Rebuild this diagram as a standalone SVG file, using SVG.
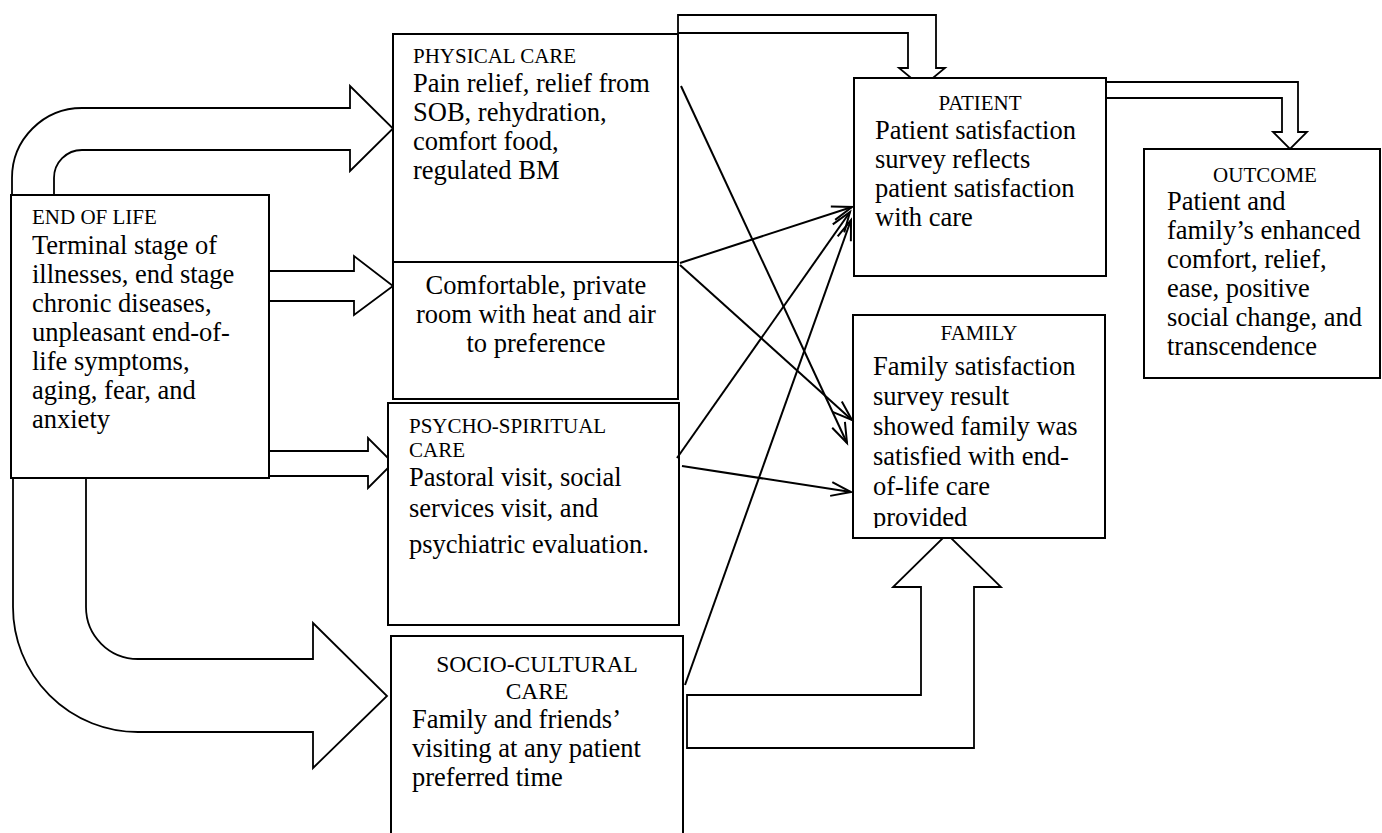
<svg xmlns="http://www.w3.org/2000/svg" width="1382" height="833" viewBox="0 0 1382 833">
<style>
.bx{fill:#fff;stroke:#000;stroke-width:2}
.ba{fill:#fff;stroke:#000;stroke-width:1.8;stroke-linejoin:miter}
.ln{fill:none;stroke:#000;stroke-width:2;marker-end:url(#ah)}
.t{font-family:"Liberation Serif","Times New Roman",serif;font-size:21px;fill:#000}
.b{font-family:"Liberation Serif","Times New Roman",serif;font-size:26.5px;fill:#000}
.s{font-family:"Liberation Serif","Times New Roman",serif;font-size:23.5px;fill:#000}
.c{text-anchor:middle}
</style>
<defs>
<marker id="ah" markerUnits="userSpaceOnUse" markerWidth="30" markerHeight="30" viewBox="-25 -12 30 24" refX="0" refY="0" orient="auto">
<path d="M-20,-7 L0,0 L-20,7" fill="none" stroke="#000" stroke-width="2"/>
</marker>
<clipPath id="famclip"><rect x="853" y="315" width="252" height="213"/></clipPath>
</defs>
<rect width="1382" height="833" fill="#fff"/>

<g id="block-arrows">
<path class="ba" d="M12,195 L12,178 A70,70 0 0 1 82,108 L350,108 L350,86 L393,128.5 L350,171 L350,150 L82,150 A28,28 0 0 0 54,178 L54,195"/>
<path class="ba" d="M269,271 L354,271 L354,256 L393,286 L354,315 L354,301 L269,301"/>
<path class="ba" d="M269,451 L368,451 L368,438 L393,463 L368,488 L368,476 L269,476"/>
<path class="ba" d="M13,478 L13,607 A125,125 0 0 0 138,732 L313,732 L313,768 L387,696 L313,623 L313,659 L138,659 A52,52 0 0 1 86,607 L86,478"/>
<path class="ba" d="M678,33 L678,15 L936,15 L936,68 L945,68 L922,87 L899,68 L908,68 L908,33 Z"/>
<path class="ba" d="M1106,82 L1298,82 L1298,132 L1307,132 L1290,149 L1273,132 L1282,132 L1282,98 L1106,98 Z"/>
<path class="ba" d="M687,695 L921,695 L921,587 L893,587 L947,534 L1001,587 L974,587 L974,748 L687,748 Z"/>
</g>

<g id="end-of-life">
<rect class="bx" x="11" y="195" width="258" height="283"/>
<text class="t" x="32" y="224">END OF LIFE</text>
<text class="b" x="32" y="254">Terminal stage of</text>
<text class="b" x="32" y="283">illnesses, end stage</text>
<text class="b" x="32" y="312">chronic diseases,</text>
<text class="b" x="32" y="341">unpleasant end-of-</text>
<text class="b" x="32" y="370">life symptoms,</text>
<text class="b" x="32" y="399">aging, fear, and</text>
<text class="b" x="32" y="428">anxiety</text>
</g>

<g id="physical-care">
<rect class="bx" x="393" y="34" width="285" height="228"/>
<text class="t" x="413" y="63">PHYSICAL CARE</text>
<text class="b" x="413" y="92">Pain relief, relief from</text>
<text class="b" x="413" y="121">SOB, rehydration,</text>
<text class="b" x="413" y="150">comfort food,</text>
<text class="b" x="413" y="179">regulated BM</text>
</g>

<g id="comfortable-room">
<rect class="bx" x="393" y="262" width="285" height="137"/>
<text class="b c" x="536" y="294">Comfortable, private</text>
<text class="b c" x="536" y="323">room with heat and air</text>
<text class="b c" x="536" y="352">to preference</text>
</g>

<g id="psycho-spiritual-care">
<rect class="bx" x="388" y="403" width="291" height="222"/>
<text class="t" x="409" y="433">PSYCHO-SPIRITUAL</text>
<text class="t" x="409" y="457">CARE</text>
<text class="b" x="409" y="486">Pastoral visit, social</text>
<text class="b" x="409" y="517">services visit, and</text>
<text class="b" x="409" y="553">psychiatric evaluation.</text>
</g>

<g id="socio-cultural-care">
<rect class="bx" x="391" y="636" width="292" height="210"/>
<text class="s c" x="537" y="672">SOCIO-CULTURAL</text>
<text class="s c" x="537" y="699">CARE</text>
<text class="b" x="412" y="728">Family and friends’</text>
<text class="b" x="412" y="757">visiting at any patient</text>
<text class="b" x="412" y="786">preferred time</text>
</g>

<g id="patient">
<rect class="bx" x="854" y="78" width="252" height="198"/>
<text class="t c" x="980" y="110">PATIENT</text>
<text class="b" x="875" y="139">Patient satisfaction</text>
<text class="b" x="875" y="168">survey reflects</text>
<text class="b" x="875" y="197">patient satisfaction</text>
<text class="b" x="875" y="226">with care</text>
</g>

<g id="family">
<rect class="bx" x="853" y="315" width="252" height="223"/>
<g clip-path="url(#famclip)">
<text class="t c" x="979" y="340">FAMILY</text>
<text class="b" x="873" y="375">Family satisfaction</text>
<text class="b" x="873" y="405">survey result</text>
<text class="b" x="873" y="435">showed family was</text>
<text class="b" x="873" y="465">satisfied with end-</text>
<text class="b" x="873" y="495">of-life care</text>
<text class="b" x="873" y="526">provided</text>
</g>
</g>

<g id="outcome">
<rect class="bx" x="1144" y="149" width="236" height="229"/>
<text class="t c" x="1265" y="182">OUTCOME</text>
<text class="b" x="1167" y="210">Patient and</text>
<text class="b" x="1167" y="239">family’s enhanced</text>
<text class="b" x="1167" y="268">comfort, relief,</text>
<text class="b" x="1167" y="297">ease, positive</text>
<text class="b" x="1167" y="326">social change, and</text>
<text class="b" x="1167" y="355">transcendence</text>
</g>

<g id="connectors">
<line class="ln" x1="681" y1="86" x2="847" y2="443"/>
<line class="ln" x1="680" y1="263" x2="852" y2="207"/>
<line class="ln" x1="680" y1="265" x2="852" y2="420"/>
<line class="ln" x1="677" y1="458" x2="850" y2="212"/>
<line class="ln" x1="682" y1="466" x2="851" y2="492"/>
<line class="ln" x1="685" y1="685" x2="851" y2="220"/>
</g>
</svg>
